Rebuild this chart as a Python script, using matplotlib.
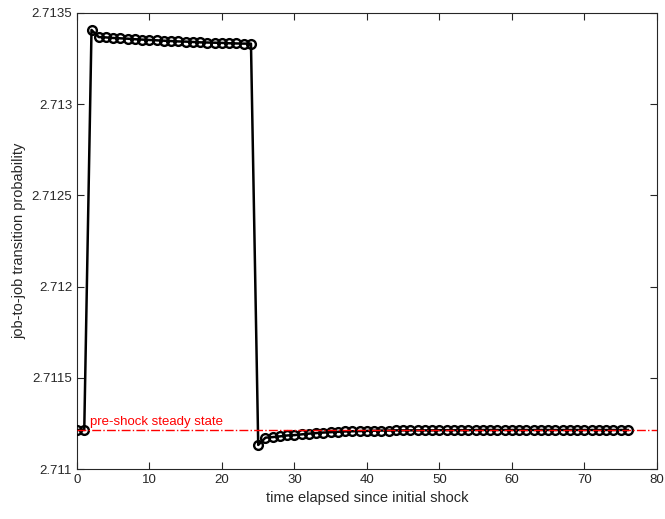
import numpy as np
import matplotlib.pyplot as plt

plt.rcParams['font.family'] = ['Liberation Sans', 'DejaVu Sans']

# 稳态水平
steady_state = 2.711214

# 各期的 job-to-job 转移概率
t = list(range(77))
before = [2.711214, 2.711214]
shock = [2.713407,
         2.713368, 2.713366, 2.713363, 2.713361, 2.713359, 2.713356,
         2.713354, 2.713352, 2.713350, 2.713348, 2.713346, 2.713344,
         2.713343, 2.713341, 2.713339, 2.713338, 2.713337, 2.713336,
         2.713334, 2.713333, 2.713332, 2.713332]
recovery = [2.711132, 2.711172, 2.711175, 2.711179, 2.711184, 2.711186,
            2.711190, 2.711194, 2.711197, 2.711200, 2.711202, 2.711204,
            2.711206, 2.711207, 2.711208, 2.711209, 2.711210, 2.711211,
            2.711211, 2.711212, 2.711212, 2.711212, 2.711212, 2.711212,
            2.711212, 2.711213, 2.711213, 2.711213, 2.711213, 2.711213,
            2.711214, 2.711214, 2.711214, 2.711214, 2.711214, 2.711214,
            2.711214, 2.711214, 2.711214, 2.711214, 2.711214, 2.711214,
            2.711214, 2.711214, 2.711214, 2.711214, 2.711214, 2.711214,
            2.711214, 2.711214, 2.711214, 2.711214]
y = before + shock + recovery

xticks = [0, 10, 20, 30, 40, 50, 60, 70, 80]
yticks = [2.711, 2.7115, 2.712, 2.7125, 2.713, 2.7135]
ytick_labels = ['2.711', '2.7115', '2.712', '2.7125', '2.713', '2.7135']

fig = plt.figure(figsize=(6.65, 5.19), dpi=100)
ax = fig.add_axes([0.1158, 0.0963, 0.872, 0.8787])

ax.plot(t, y, color='black', lw=1.8, marker='o', ms=6.3, mfc='none',
        mec='black', mew=1.7, zorder=3)
ax.axhline(steady_state, color='red', ls='-.', lw=1.0, zorder=4)
ax.text(1.8, steady_state + 0.000012, 'pre-shock steady state', color='red',
        fontsize=9.5, va='bottom', ha='left')

ax.set_xlim(0, 80)
ax.set_ylim(2.711, 2.7135)
ax.set_xticks(xticks)
ax.set_yticks(yticks)
ax.set_yticklabels(ytick_labels)
ax.tick_params(direction='in', top=True, right=True, length=5,
               labelsize=9.5, colors='#262626', width=0.8)
for s in ax.spines.values():
    s.set_color('#262626')
    s.set_linewidth(0.8)

ax.set_xlabel('time elapsed since initial shock', fontsize=10.5, color='#262626')
ax.set_ylabel('job-to-job transition probability', fontsize=10.5, color='#262626')

fig.savefig('out.png', dpi=100)
